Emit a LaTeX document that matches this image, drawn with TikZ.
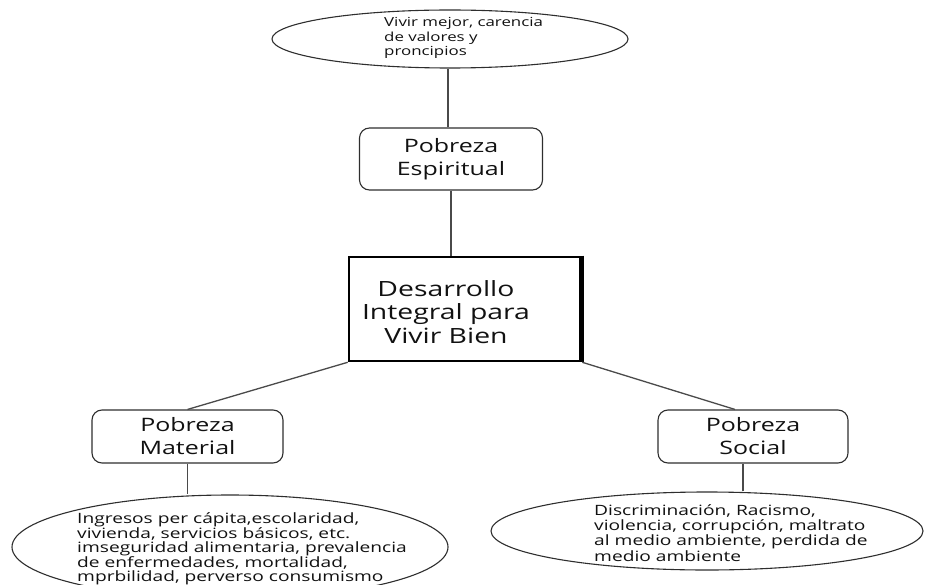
\documentclass[tikz,border=0pt]{standalone}
\usepackage{fontspec}
\setmainfont[FakeStretch=1.35]{Open Sans}
\usetikzlibrary{shapes.geometric, positioning}
\definecolor{lnGrey}{HTML}{4A4A4A}
\definecolor{bdGrey}{HTML}{2E2E2E}
\definecolor{txGrey}{HTML}{111111}
\tikzset{
  link/.style      = {lnGrey, line width=1.3pt},
  poorbox/.style   = {draw=bdGrey, line width=1.1pt, rounded corners=10pt,
                      align=center, text=txGrey, font=\fontsize{18.5}{23}\selectfont},
  needoval/.style  = {ellipse, draw=bdGrey, line width=1.1pt, inner sep=0pt},
  needtxt/.style   = {align=left, anchor=west, text=txGrey, inner sep=0pt,
                      font=\fontsize{14.2}{14.6}\selectfont},
}

\begin{document}
\begin{tikzpicture}[x=1pt,y=-1pt,
    corebox/.style={draw=black, line width=2.6pt, minimum width=232pt, minimum height=104pt}]
  \useasboundingbox (0,0) rectangle (925,585);
  % centre
  \node[corebox] (core) at (465,309) {};
  \draw[line width=4.5pt] ([xshift=-1pt]core.north east) -- ([xshift=-1pt]core.south east);
  \node[align=center, text=txGrey, font=\fontsize{21}{23.5}\selectfont] (coreTxt) at (446,312)
    {Desarrollo\\Integral para\\Vivir Bien};
  % kinds of poverty
  \node[poorbox, minimum width=183pt, minimum height=62pt] (spirit) at (451,159) {Pobreza\\Espiritual};
  \node[poorbox, minimum width=191pt, minimum height=53pt] (material) at (187.5,436.5) {Pobreza\\Material};
  \node[poorbox, minimum width=190pt, minimum height=53pt] (social) at (753,436.5) {Pobreza\\Social};
  % what each one means
  \node[needoval, minimum width=356pt, minimum height=58pt] (vision) at (450,39) {};
  \node[needtxt, font=\fontsize{12.5}{14.5}\selectfont] (visionTxt) at (384,38)
    {Vivir mejor, carencia\\de valores y\\proncipios};
  \node[needoval, minimum width=436pt, minimum height=104pt] (matNeed) at (230,547) {};
  \node[needtxt] (matTxt) at (77,549)
    {Ingresos per cápita,escolaridad,\\vivienda, servicios básicos, etc.\\imseguridad alimentaria, prevalencia\\de enfermedades, mortalidad,\\mprbilidad, perverso consumismo};
  \node[needoval, minimum width=432pt, minimum height=78pt] (socNeed) at (707,531) {};
  \node[needtxt, font=\fontsize{14.2}{15.2}\selectfont] (socTxt) at (594,533)
    {Discriminación, Racismo,\\violencia, corrupción, maltrato\\al medio ambiente, perdida de\\medio ambiente};
  % connectors
  \draw[link] (spirit.north) ++(-3,0) coordinate (sTop) -- (sTop |- vision.south);
  \draw[link] (spirit.south) -- (spirit.south |- core.north);
  \draw[link] (core.south west) -- (material.north);
  \draw[link] (core.south east) -- ([xshift=-18pt]social.north);
  \draw[link] (material.south) -- (material.south |- matNeed.north);
  \draw[link] ([xshift=-10pt]social.south) coordinate (soBot) -- (soBot |- socNeed.north);
\end{tikzpicture}
\end{document}
